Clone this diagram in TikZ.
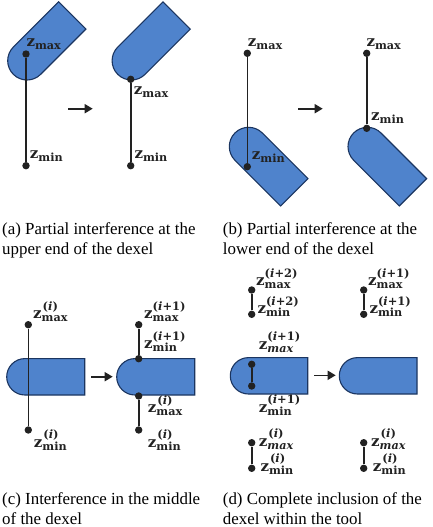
\documentclass[tikz,border=0pt]{standalone}
\usepackage{fontspec}
\setmainfont{Liberation Serif}
\newfontfamily\lblfont{DejaVu Serif}
\usetikzlibrary{arrows.meta}
\definecolor{toolblue}{HTML}{4F83CC}
\definecolor{toolline}{HTML}{1B3560}
\definecolor{ink}{HTML}{222222}
\newcommand\zf{\lblfont\bfseries\fontsize{15}{15}\selectfont z}
\newcommand\subf{\lblfont\bfseries\fontsize{11.2}{12}\selectfont}
\newcommand\supf{\lblfont\bfseries\fontsize{11.5}{12}\selectfont}
\newcommand\zlab[2]{{\zf}\rlap{\raisebox{8.5pt}{\supf #2}}\raisebox{-3.4pt}{\subf #1}}
\newcommand\supi{\kern1pt(\textit{i})}
\tikzset{
  x=1pt,y=-1pt,
  tool/.style={fill=toolblue,draw=toolline,line width=1.1pt,line join=miter},
  dot/.style={circle,fill=ink,draw=none,inner sep=0pt,minimum size=7.4pt},
  dex/.style={draw=ink,line width=1.6pt},
  lab/.style={anchor=base west,inner sep=0pt,text=ink},
  captxt/.style={anchor=base west,inner sep=0pt,font=\fontsize{16.9}{20}\selectfont,text=black},
  goarrow/.style={draw=ink,line width=1.6pt,-{Triangle[length=8pt,width=9pt]}},
}
\newcommand\toolshape[5]{% cx cy rot r L
  \begin{scope}[shift={(#1,#2)},rotate=#3]
    \path[tool] (0,#4) arc (90:270:#4) -- (#5,-#4) -- (#5,#4) -- cycle;
  \end{scope}}
\begin{document}
\begin{tikzpicture}
\useasboundingbox (0,0) rectangle (432,527);
% (a)
\toolshape{27}{60.7}{45}{19.3}{64}
\toolshape{131.4}{60.7}{45}{19.3}{64}
\node[dot] (a1t) at (26,54) {};
\node[dot] (a1b) at (26,165.7) {};
\draw[dex] (a1t) -- (a1b);
\node[dot] (a2t) at (130.7,79.3) {};
\node[dot] (a2b) at (130.7,165.7) {};
\draw[dex] (a2t) -- (a2b);
\coordinate (a3) at (68.3,108.7); \coordinate (a4) at (92.7,108.7);
\draw[goarrow] (a3) -- (a4);
\node[lab] (la1) at (26.3,46.5) {\zlab{max}{}};
\node[lab] (la2) at (133.7,94) {\zlab{max}{}};
\node[lab] (la3) at (29.7,158) {\zlab{min}{}};
\node[lab] (la4) at (134.3,158) {\zlab{min}{}};
\node[captxt] (ca1) at (2,234.7) {(a) Partial interference at the};
\node[captxt] (ca2) at (2,254.7) {upper end of the dexel};
% (b)
\toolshape{248.6}{146.6}{-45}{19.3}{64.6}
\toolshape{367.3}{146.6}{-45}{19.3}{64.6}
\node[dot] (b1t) at (247.3,53.3) {};
\node[dot] (b1b) at (247.3,166.7) {};
\draw[dex] (b1t) -- (b1b);
\node[dot] (b2t) at (366.7,53.3) {};
\node[dot] (b2b) at (366.7,128.3) {};
\draw[dex] (b2t) -- (b2b);
\coordinate (b3) at (298,108.7); \coordinate (b4) at (322.7,108.7);
\draw[goarrow] (b3) -- (b4);
\node[lab] (lb1) at (247.7,46.5) {\zlab{max}{}};
\node[lab] (lb2) at (366.3,46.5) {\zlab{max}{}};
\node[lab] (lb3) at (251.7,159) {\zlab{min}{}};
\node[lab] (lb4) at (371,120.5) {\zlab{min}{}};
\node[captxt] (cb1) at (222.7,234.7) {(b) Partial interference at the};
\node[captxt] (cb2) at (222.7,254.7) {lower end of the dexel};
% (c)
\toolshape{24.9}{376.8}{0}{18.2}{59.8}
\toolshape{134.9}{376.8}{0}{18.2}{59.8}
\node[dot] (c1t) at (28.3,324.7) {};
\node[dot] (c1b) at (28.3,430) {};
\draw[dex] (c1t) -- (c1b);
\node[dot] (c2t) at (138.7,324.7) {};
\node[dot] (c2m) at (138.7,358.7) {};
\draw[dex] (c2t) -- (c2m);
\node[dot] (c3t) at (138.7,396) {};
\node[dot] (c3b) at (138.7,430) {};
\draw[dex] (c3t) -- (c3b);
\coordinate (c3) at (91.3,376.7); \coordinate (c4) at (112.7,376.7);
\draw[goarrow] (c3) -- (c4);
\node[lab] (lc1) at (33,318.5) {\zlab{max}{\supi}};
\node[lab] (lc2) at (33.7,447) {\zlab{min}{\supi}};
\node[lab] (lc3) at (144,318.5) {\zlab{max}{(\textit{i}+1)}};
\node[lab] (lc4) at (144,348.5) {\zlab{min}{(\textit{i}+1)}};
\node[lab] (lc5) at (147.7,412.5) {\zlab{max}{\supi}};
\node[lab] (lc6) at (147.7,447) {\zlab{min}{\supi}};
\node[captxt] (cc1) at (2,504.3) {(c) Interference in the middle};
\node[captxt] (cc2) at (2,524.3) {of the dexel};
% (d)
\toolshape{248.5}{375.8}{0}{18.2}{59.2}
\toolshape{357.5}{375.8}{0}{18.2}{59.5}
\node[dot] (d1t) at (251.7,290) {};
\node[dot] (d1b) at (251.7,314.3) {};
\draw[dex] (d1t) -- (d1b);
\node[dot] (d2t) at (363.7,290) {};
\node[dot] (d2b) at (363.7,314.3) {};
\draw[dex] (d2t) -- (d2b);
\node[dot] (d3t) at (251.7,364.3) {};
\node[dot] (d3b) at (251.7,386) {};
\draw[dex] (d3t) -- (d3b);
\node[dot] (d4t) at (251.7,442.7) {};
\node[dot] (d4b) at (251.7,468.3) {};
\draw[dex] (d4t) -- (d4b);
\node[dot] (d5t) at (363.7,442.7) {};
\node[dot] (d5b) at (363.7,468.3) {};
\draw[dex] (d5t) -- (d5b);
\coordinate (d3) at (314.3,375.3); \coordinate (d4) at (335.7,375.3);
\draw[goarrow] (d3) -- (d4);
\node[lab] (ld1) at (256,285.5) {\zlab{max}{(\textit{i}+2)}};
\node[lab] (ld2) at (257.3,313.5) {\zlab{min}{(\textit{i}+2)}};
\node[lab] (ld3) at (368,285.5) {\zlab{max}{(\textit{i}+1)}};
\node[lab] (ld4) at (369.3,313.5) {\zlab{min}{(\textit{i}+1)}};
\node[lab] (ld5) at (258.7,349) {\zlab{\textit{max}}{(\textit{i}+1)}};
\node[lab] (ld6) at (258.7,412) {\zlab{min}{(\textit{i}+1)}};
\node[lab] (ld7) at (258.7,446) {\zlab{\textit{max}}{\supi}};
\node[lab] (ld8) at (260.3,471) {\zlab{min}{\supi}};
\node[lab] (ld9) at (371,446) {\zlab{\textit{max}}{\supi}};
\node[lab] (ld10) at (372.7,471) {\zlab{min}{\supi}};
\node[captxt] (cd1) at (222.7,504.3) {(d) Complete inclusion of the};
\node[captxt] (cd2) at (222.7,524.3) {dexel within the tool};
\end{tikzpicture}
\end{document}
